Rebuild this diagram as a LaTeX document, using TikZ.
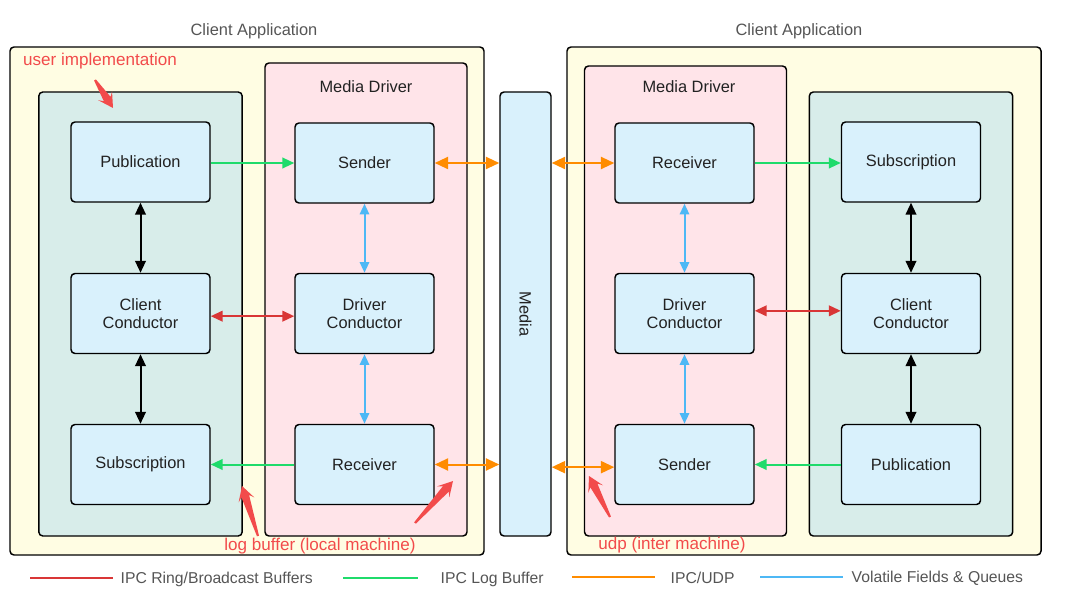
\documentclass[tikz,border=0pt]{standalone}
\usepackage{fontspec}
\setmainfont{Liberation Sans}
\usetikzlibrary{arrows.meta,calc}
\definecolor{cyellow}{HTML}{FFFDE3}
\definecolor{cgreenbg}{HTML}{D8EDEA}
\definecolor{cpink}{HTML}{FFE4E9}
\definecolor{cblue}{HTML}{D9F1FC}
\definecolor{cred}{HTML}{D93636}
\definecolor{cgreen}{HTML}{1FDB6B}
\definecolor{corange}{HTML}{FF8C00}
\definecolor{clblue}{HTML}{4DB8F5}
\definecolor{cann}{HTML}{F24B4B}
\definecolor{ctext}{HTML}{222222}
\definecolor{cgrey}{HTML}{555555}
\newcommand{\annarrow}[2]{%
  \coordinate (hb) at ($(#2)!11pt!(#1)$);
  \coordinate (nb) at ($(#2)!8pt!(#1)$);
  \fill[cann] (#2) -- ($(hb)!6.2pt!90:(#2)$) -- ($(nb)!3pt!90:(#2)$) -- ($(#1)!0.8pt!90:(#2)$)
    -- ($(#1)!0.8pt!-90:(#2)$) -- ($(nb)!3pt!-90:(#2)$) -- ($(hb)!6.2pt!-90:(#2)$) -- cycle;}
\begin{document}
\begin{tikzpicture}[x=0.75pt,y=-0.75pt,
  font=\fontsize{12.3}{14.5}\selectfont,
  container/.style={draw=black,line width=1.1pt,rounded corners=3pt,inner sep=0pt},
  outerbox/.style={container,fill=cyellow,minimum width=355.5pt,minimum height=381pt},
  userbox/.style={container,fill=cgreenbg,minimum width=152.5pt,minimum height=333pt},
  driverbox/.style={container,fill=cpink,minimum width=151.5pt},
  compbox/.style={draw=black,line width=1.1pt,rounded corners=3pt,fill=cblue,
     minimum width=104.25pt,minimum height=60pt,align=center,text=ctext,
     font=\fontsize{12.3}{14}\selectfont},
  title/.style={text=cgrey},
  annot/.style={text=cann,font=\fontsize{12.8}{14.5}\selectfont},
  conn/.style={line width=1.5pt},
  blk/.style={conn,black,{Triangle[length=9pt,width=8pt]}-{Triangle[length=9pt,width=8pt]}},
  redc/.style={conn,cred,{Triangle[length=9pt,width=8pt]}-{Triangle[length=9pt,width=8pt]}},
  grn/.style={conn,cgreen,-{Triangle[length=9pt,width=8pt]}},
  org/.style={conn,corange,{Triangle[length=10pt,width=9pt]}-{Triangle[length=10pt,width=9pt]}},
  blu/.style={conn,clblue,{Triangle[length=8pt,width=7pt]}-{Triangle[length=8pt,width=7pt]}},
  legline/.style={line width=1.8pt},
  legtext/.style={text=cgrey,anchor=west,font=\fontsize{11.8}{13}\selectfont}
]
\useasboundingbox (0,0) rectangle (1066,609);

% containers
\node[outerbox] (louter) at (247,301) {};
\node[outerbox] (router) at (804,301) {};
\node[userbox] (luser) at (140.5,314) {};
\node[driverbox,minimum height=354.75pt] (ldrv) at (366,299.5) {};
\node[driverbox,minimum height=352.5pt] (rdrv) at (685.5,301) {};
\node[userbox] (ruser) at (911,314) {};
\node[container,fill=cblue,minimum width=38.25pt,minimum height=333pt] (media) at (525.5,314) {};
\node[rotate=-90,text=ctext] (medialbl) at (media.center) {Media};

% titles
\node[title] (t1) at (254,31) {Client Application};
\node[title] (t2) at (799,31) {Client Application};
\node[text=ctext] (md1) at (366,87) {Media Driver};
\node[text=ctext] (md2) at (689,87) {Media Driver};

% left user column
\node[compbox] (lpub) at (140.5,162) {Publication};
\node[compbox] (lcc) at (140.5,313.5) {Client\\Conductor};
\node[compbox] (lsub) at (140.5,464.5) {Subscription};
% left driver column
\node[compbox] (lsnd) at (364.5,163) {Sender};
\node[compbox] (ldc) at (364.5,313.5) {Driver\\Conductor};
\node[compbox] (lrcv) at (364.5,464.5) {Receiver};
% right driver column
\node[compbox] (rrcv) at (684.5,163) {Receiver};
\node[compbox] (rdc) at (684.5,313.5) {Driver\\Conductor};
\node[compbox] (rsnd) at (684.5,464.5) {Sender};
% right user column
\node[compbox] (rsub) at (911,162) {Subscription};
\node[compbox] (rcc) at (911,313.5) {Client\\Conductor};
\node[compbox] (rpub) at (911,464.5) {Publication};

% connectors left
\draw[grn] (lsnd.west -| lpub.east) -- (lsnd.west);
\draw[blk] (lpub.south) -- (lcc.north);
\draw[blk] (lcc.south) -- (lsub.north);
\draw[redc] ([yshift=-2pt]lcc.east) -- ([yshift=-2pt]ldc.west);
\draw[blu] (lsnd.south) -- (ldc.north);
\draw[blu] (ldc.south) -- (lrcv.north);
\draw[grn] (lrcv.west) -- (lsub.east);
\draw[org] (lsnd.east) -- (lsnd.east -| media.west);
\draw[org] (lrcv.east) -- (lrcv.east -| media.west);
% connectors right
\draw[org] (rrcv.west -| media.east) -- (rrcv.west);
\draw[org] ([yshift=-2pt]rsnd.west -| media.east) -- ([yshift=-2pt]rsnd.west);
\draw[grn] (rrcv.east) -- (rrcv.east -| rsub.west);
\draw[grn] (rpub.west) -- (rsnd.east);
\draw[redc] ([yshift=2pt]rdc.east) -- ([yshift=2pt]rcc.west);
\draw[blu] (rrcv.south) -- (rdc.north);
\draw[blu] (rdc.south) -- (rsnd.north);
\draw[blk] (rsub.south) -- (rcc.north);
\draw[blk] (rcc.south) -- (rpub.north);

% annotations
\node[annot] (a1) at (100,61) {user implementation};
\node[annot] (a2) at (320,546) {log buffer (local machine)};
\node[annot] (a3) at (672,545) {udp (inter machine)};
\coordinate (a1t) at (95,80);  \coordinate (a1h) at (113,108);
\coordinate (a2t) at (258,536); \coordinate (a2h) at (242,486);
\coordinate (a3t) at (415,523); \coordinate (a3h) at (453,481);
\coordinate (a4t) at (610,517); \coordinate (a4h) at (589,476);
\annarrow{a1t}{a1h}
\annarrow{a2t}{a2h}
\annarrow{a3t}{a3h}
\annarrow{a4t}{a4h}

% legend
\coordinate (l1a) at (30,578); \coordinate (l1b) at (113,578);
\coordinate (l2a) at (343,578); \coordinate (l2b) at (418,578);
\coordinate (l3a) at (572,577); \coordinate (l3b) at (655,577);
\coordinate (l4a) at (760,577); \coordinate (l4b) at (843,577);
\draw[legline,cred] (l1a) -- (l1b);
\draw[legline,cgreen] (l2a) -- (l2b);
\draw[legline,corange] (l3a) -- (l3b);
\draw[legline,clblue] (l4a) -- (l4b);
\node[legtext] (lt1) at (116,579) {IPC Ring/Broadcast Buffers};
\node[legtext] (lt2) at (436,579) {IPC Log Buffer};
\node[legtext] (lt3) at (666,578) {IPC/UDP};
\node[legtext] (lt4) at (847,578) {Volatile Fields \& Queues};
\end{tikzpicture}
\end{document}
